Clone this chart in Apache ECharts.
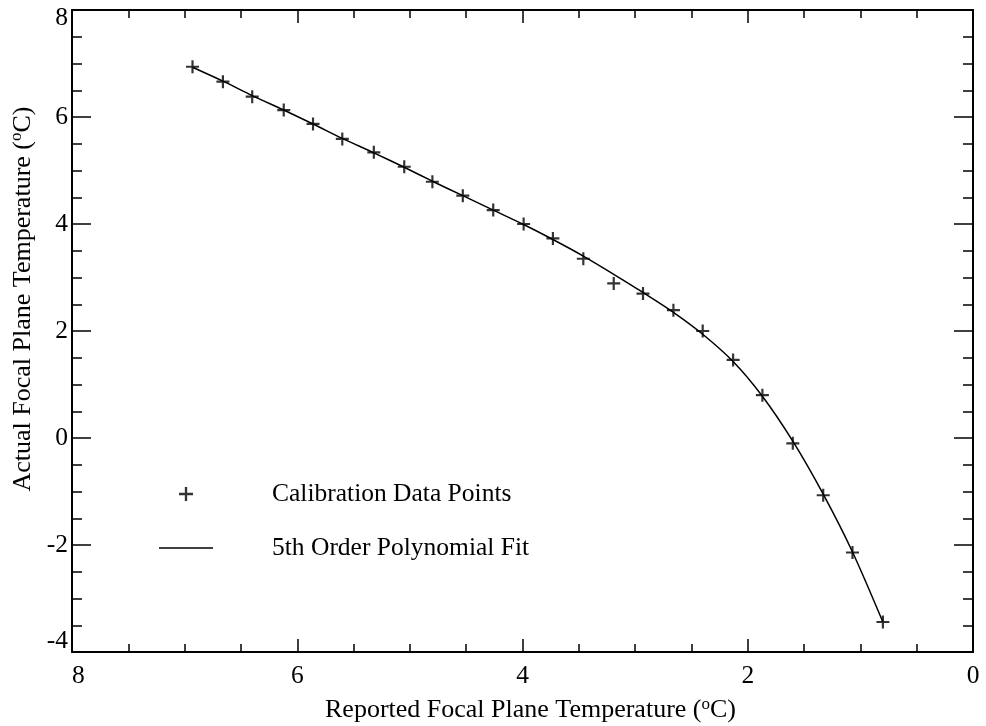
<!DOCTYPE html>
<html>
<head>
<meta charset="utf-8">
<title>Focal Plane Temperature Calibration</title>
<script src="https://cdn.jsdelivr.net/npm/echarts@6/dist/echarts.min.js"></script>
<style>
  html, body { margin: 0; padding: 0; background: #fff; }
  #chart { width: 986px; height: 726px; }
</style>
</head>
<body>
<div id="chart"></div>
<script>
// reported temperature (x) and actual temperature (y) of the calibration points
const calX = [6.93, 6.66, 6.40, 6.12, 5.86, 5.60, 5.32, 5.05, 4.80, 4.53, 4.26, 3.99,
              3.73, 3.46, 3.19, 2.93, 2.66, 2.40, 2.13, 1.87, 1.60, 1.33, 1.07, 0.80];
const calY = [6.94, 6.66, 6.38, 6.13, 5.87, 5.59, 5.34, 5.07, 4.79, 4.53, 4.26, 4.00,
              3.73, 3.35, 2.89, 2.70, 2.39, 2.00, 1.46, 0.80, -0.10, -1.07, -2.14, -3.44];

// polynomial fit curve at the same x positions
const fitX = calX;
const fitY = [6.93, 6.67, 6.40, 6.13, 5.87, 5.60, 5.33, 5.06, 4.80, 4.53, 4.26, 3.99,
              3.71, 3.40, 3.06, 2.72, 2.35, 1.94, 1.43, 0.78, -0.06, -1.05, -2.13, -3.44];

// axis tick values
const xTicks = [0, 2, 4, 6, 8];
const yTicks = [-4, -2, 0, 2, 4, 6, 8];

const seriesNames = ['Calibration Data Points', '5th Order Polynomial Fit'];

const FONT = '"Liberation Serif", "Times New Roman", serif';
const plusIcon = 'path://M5,0H7V5H12V7H7V12H5V7H0V5H5Z';
const lineIcon = 'path://M0,0H54V1.6H0Z';

const xMin = xTicks[0], xMax = xTicks[xTicks.length - 1];
const yMin = yTicks[0], yMax = yTicks[yTicks.length - 1];

const chart = echarts.init(document.getElementById('chart'));

// shared look of the box axes
const boxLine = { show: true, onZero: false, lineStyle: { color: '#000', width: 2 } };

const xAxisBase = {
  type: 'value',
  min: xMin,
  max: xMax,
  interval: 2,
  inverse: true,
  splitLine: { show: false },
  axisLine: boxLine,
  axisTick: { show: true, inside: true, length: 13, lineStyle: { color: '#000', width: 1.5 } },
  minorTick: { show: true, splitNumber: 4, length: 8, lineStyle: { color: '#000', width: 1.5 } },
};

const yAxisBase = {
  type: 'value',
  min: yMin,
  max: yMax,
  interval: 2,
  splitLine: { show: false },
  axisLine: boxLine,
  axisTick: { show: true, inside: true, length: 19, lineStyle: { color: '#000', width: 1.5 } },
  minorTick: { show: true, splitNumber: 4, length: 10, lineStyle: { color: '#000', width: 1.5 } },
};

const nameRich = {
  t: { fontFamily: FONT, fontSize: 26, color: '#000' },
  s: { fontFamily: FONT, fontSize: 17, color: '#000', padding: [0, 0, 12, 0] },
};

const option = {
  backgroundColor: '#fff',
  animation: false,
  textStyle: { fontFamily: FONT },
  grid: { left: 72, right: 13, top: 10, bottom: 74, outerBoundsMode: 'none', containLabel: false },
  legend: {
    orient: 'vertical',
    left: 159,
    top: 481,
    padding: 0,
    itemWidth: 54,
    itemHeight: 14,
    itemGap: 28,
    selectedMode: false,
    data: [
      { name: seriesNames[0], icon: plusIcon },
      { name: seriesNames[1], icon: lineIcon },
    ],
    formatter: (name) => '{a|' + name + '}',
    textStyle: {
      color: '#000',
      fontFamily: FONT,
      fontSize: 25.5,
      rich: { a: { fontFamily: FONT, fontSize: 25.5, lineHeight: 30, color: '#000', padding: [0, 0, 0, 54] } },
    },
  },
  xAxis: [
    Object.assign({}, xAxisBase, {
      position: 'bottom',
      name: '{t|Reported Focal Plane Temperature (}{s|o}{t|C)}',
      nameLocation: 'middle',
      nameGap: 44,
      nameTextStyle: { rich: nameRich, padding: [0, 0, 0, 16] },
      axisLabel: {
        show: true, margin: 11, color: '#000', fontFamily: FONT, fontSize: 25.5,
        alignMaxLabel: 'left',
      },
    }),
    Object.assign({}, xAxisBase, { position: 'top', axisLabel: { show: false } }),
  ],
  yAxis: [
    Object.assign({}, yAxisBase, {
      position: 'left',
      name: '{t|Actual Focal Plane Temperature (}{s|o}{t|C)}',
      nameLocation: 'middle',
      nameGap: 33,
      // title sits a little above the middle of the axis
      nameTextStyle: { rich: nameRich, padding: [0, 0, 0, 64] },
      axisLabel: {
        show: true,
        margin: 4,
        color: '#000',
        fontFamily: FONT,
        fontSize: 25.5,
        // end labels sit inside the axis span, like the original
        formatter: (v) => (v === yMax ? '{hi|' + v + '}' : v === yMin ? '{lo|' + v + '}' : '' + v),
        rich: {
          hi: { fontFamily: FONT, fontSize: 25.5, color: '#000', padding: [17, 0, 0, 0] },
          lo: { fontFamily: FONT, fontSize: 25.5, color: '#000', padding: [0, 0, 22, 0] },
        },
      },
    }),
    Object.assign({}, yAxisBase, { position: 'right', axisLabel: { show: false } }),
  ],
  series: [
    {
      name: seriesNames[0],
      type: 'scatter',
      xAxisIndex: 0,
      yAxisIndex: 0,
      symbol: plusIcon,
      symbolSize: 13,
      itemStyle: { color: '#000' },
      data: calX.map((x, i) => [x, calY[i]]),
      z: 3,
    },
    {
      name: seriesNames[1],
      type: 'line',
      xAxisIndex: 0,
      yAxisIndex: 0,
      showSymbol: false,
      smooth: 0.3,
      lineStyle: { color: '#000', width: 1.5 },
      itemStyle: { color: '#000' },
      data: fitX.map((x, i) => [x, fitY[i]]),
      z: 2,
    },
  ],
};

chart.setOption(option);
</script>
</body>
</html>
